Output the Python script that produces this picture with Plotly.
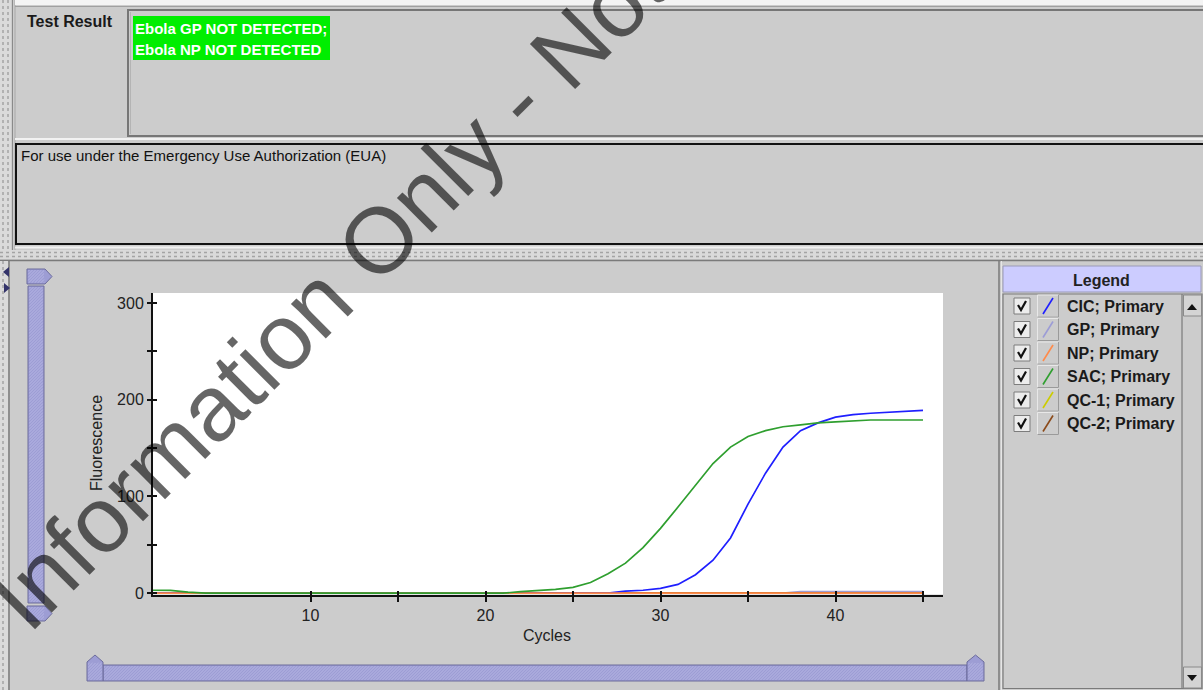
import plotly.graph_objects as go

W, H = 1203, 690
FIG_H = 697  # the page photo comes out ~1% squeezed vertically; paper fractions stay the same

# ---------------- data ----------------
cycles = list(range(1, 46))
cic = [0]*27 + [2, 3, 5, 9, 19, 34, 57, 92, 124, 151, 168, 176, 182, 184.5, 186, 187, 187.5, 189]
gp = [0]*37 + [1.5]*8
np_vals = [0]*45
sac = [3, 2.8, 1] + [0]*18 + [1.5, 2.5, 4, 6, 11, 20, 31, 47, 67, 89, 112, 134, 151, 162, 168, 172,
                            174, 176, 177, 178, 179, 179, 179, 179]
qc1 = [0]*45
qc2 = [0]*45

series_names = ["CIC; Primary", "GP; Primary", "NP; Primary", "SAC; Primary", "QC-1; Primary", "QC-2; Primary"]
series_values = [cic, gp, np_vals, sac, qc1, qc2]
series_colors = ["#1f1fff", "#9c9cd6", "#ff8a4a", "#2f9f2f", "#cccc00", "#8b4a1a"]
draw_order = [1, 4, 5, 0, 2, 3]  # GP, QC-1, QC-2, CIC, NP, SAC

x_tick_vals = [10, 15, 20, 25, 30, 35, 40, 45]
x_tick_text = ["10", "", "20", "", "30", "", "40", ""]
y_tick_vals = [0, 50, 100, 150, 200, 250, 300]
y_tick_text = ["0", "", "100", "", "200", "", "300"]

x_title = "Cycles"
y_title = "Fluorescence"
result_label = "Test Result"
result_lines = ["Ebola GP NOT DETECTED;", "Ebola NP NOT DETECTED"]
eua_text = "For use under the Emergency Use Authorization (EUA)"
legend_title = "Legend"
watermark = "Information Only - Not"

FONT = "Liberation Sans, Arial, sans-serif"
BG = "#cccccc"
LAV = "#9d9dd4"
LAV_EDGE = "#6c6c9c"
LAV_HATCH = "#bcbce8"


def X(px):
    return px / W


def Y(py):
    return 1 - py / H


shapes = []


def rect(x0, y0, x1, y1, fill=None, line=None, width=1, layer="above"):
    shapes.append(dict(type="rect", xref="paper", yref="paper",
                       x0=X(x0), y0=Y(y0), x1=X(x1), y1=Y(y1),
                       fillcolor=fill if fill else "rgba(0,0,0,0)",
                       line=dict(color=line if line else "rgba(0,0,0,0)", width=width if line else 0),
                       layer=layer))


def seg(x0, y0, x1, y1, color, width=1, dash="solid"):
    shapes.append(dict(type="line", xref="paper", yref="paper",
                       x0=X(x0), y0=Y(y0), x1=X(x1), y1=Y(y1),
                       line=dict(color=color, width=width, dash=dash)))


def poly(pts, fill, line=None, width=1):
    d = "M " + " L ".join(f"{X(px):.5f},{Y(py):.5f}" for px, py in pts) + " Z"
    shapes.append(dict(type="path", xref="paper", yref="paper", path=d,
                       fillcolor=fill,
                       line=dict(color=line if line else "rgba(0,0,0,0)", width=width if line else 0)))


def hatch(x0, y0, x1, y1, step=3.0, color=LAV_HATCH):
    parts = []
    c = x0 + y0 + step / 2
    while c < x1 + y1:
        xa, xb = max(x0, c - y1), min(x1, c - y0)
        if xb > xa:
            parts.append(f"M {X(xa):.5f},{Y(c - xa):.5f} L {X(xb):.5f},{Y(c - xb):.5f}")
        c += step
    shapes.append(dict(type="path", xref="paper", yref="paper", path=" ".join(parts),
                       line=dict(color=color, width=0.8)))


# ---------- top panel ----------
rect(0, 0, 11, 251, fill="#dadada")
seg(3, 0, 3, 251, "#a4a4a4", 1.5, "dot")
seg(8, 0, 8, 251, "#a4a4a4", 1.5, "dot")
seg(12.5, 0, 12.5, 251, "#8a8a8a", 1)
seg(15, 0, 15, 251, "#a8a8a8", 1)
rect(15, 0, W, 5, fill="#f4f4f4")
seg(15, 6.5, W, 6.5, "#a0a0a0", 1)
# result box
rect(128, 10, W + 3, 136, line="#767676", width=2)
seg(130.5, 12, 130.5, 134, "#b4b4b4", 1)
seg(15, 139, W, 139, "#f2f2f2", 2)
# highlight
rect(133, 16, 330, 60, fill="#00ee00")
# EUA box
rect(16, 144, W + 3, 244, line="#111111", width=2)
seg(15, 247.5, W, 247.5, "#f0f0f0", 2)
# horizontal splitter
rect(0, 250, W, 259, fill="#dadada")
seg(0, 252.5, W, 252.5, "#a4a4a4", 1.5, "dot")
seg(0, 256.5, W, 256.5, "#a4a4a4", 1.5, "dot")
seg(0, 260.5, W, 260.5, "#7a7a7a", 1.5)

# ---------- bottom panel left ----------
rect(0, 261, 8, H, fill="#dadada")
seg(3, 261, 3, H, "#a4a4a4", 1.5, "dot")
seg(9, 261, 9, H, "#7a7a7a", 1.5)
poly([(9, 267), (9, 277), (3, 272)], "#33336a")
poly([(4, 283), (4, 293), (10, 288)], "#33336a")

# vertical slider
rect(28, 286, 44, 603, fill=LAV)
hatch(29, 287, 43, 602)
rect(28, 286, 44, 603, line=LAV_EDGE, width=1)
poly([(27, 269), (45, 269), (52, 276.5), (45, 284), (27, 284)], LAV)
hatch(28, 270, 44, 283)
poly([(27, 269), (45, 269), (52, 276.5), (45, 284), (27, 284)], "rgba(0,0,0,0)", LAV_EDGE, 1)
poly([(27, 606), (45, 606), (52, 613.5), (45, 621), (27, 621)], LAV)
hatch(28, 607, 44, 620)
poly([(27, 606), (45, 606), (52, 613.5), (45, 621), (27, 621)], "rgba(0,0,0,0)", LAV_EDGE, 1)
# horizontal slider
rect(103, 665, 967, 681, fill=LAV)
hatch(104, 666, 966, 680)
rect(103, 665, 967, 681, line=LAV_EDGE, width=1)
for pts in ([(87, 681), (87, 662), (95, 655), (103, 662), (103, 681)],
            [(967, 681), (967, 662), (975.5, 655), (984, 662), (984, 681)]):
    poly(pts, LAV)
    hatch(pts[0][0] + 1, 663, pts[3][0] - 1, 680)
    poly(pts, "rgba(0,0,0,0)", LAV_EDGE, 1)

# ---------- legend panel ----------
seg(999, 261, 999, H, "#7a7a7a", 1.5)
seg(1001.5, 261, 1001.5, H, "#e6e6e6", 1)
rect(1003, 266, 1201, 292, fill="#ccccff", line="#9a9ab8", width=1)
rect(1003, 294, 1202, 688.5, line="#7a7a7a", width=1.2)
seg(1182, 294, 1182, 688, "#7a7a7a", 1.2)
rect(1183.5, 295, 1201.5, 316, fill="#d4d4d4", line="#8a8a8a", width=1)
poly([(1187, 310), (1197, 310), (1192, 304)], "#111111")
rect(1183.5, 667, 1201.5, 688, fill="#d4d4d4", line="#8a8a8a", width=1)
poly([(1187, 675), (1197, 675), (1192, 681)], "#111111")

row_y = [306, 329.5, 353, 376.5, 400, 423.5]
for i, yc in enumerate(row_y):
    rect(1014, yc - 8, 1030, yc + 8, fill="#ececec", line="#7c7c7c", width=1)
    shapes.append(dict(type="path", xref="paper", yref="paper",
                       path=f"M {X(1018):.5f},{Y(yc-1):.5f} L {X(1021):.5f},{Y(yc+4):.5f} L {X(1026):.5f},{Y(yc-5):.5f}",
                       line=dict(color="#111111", width=2.2)))
    rect(1037.5, yc - 11, 1058.5, yc + 11, line="#e8e8e8", width=1)
    seg(1037.5, yc + 11, 1058.5, yc + 11, "#9a9a9a", 1)
    seg(1058.5, yc - 11, 1058.5, yc + 11, "#9a9a9a", 1)
    seg(1043, yc + 8, 1053, yc - 8, series_colors[i], 1.6)

# ---------------- figure ----------------
fig = go.Figure()
for k in draw_order:
    fig.add_trace(go.Scatter(x=cycles, y=series_values[k], mode="lines", name=series_names[k],
                             line=dict(color=series_colors[k], width=1.7), showlegend=False,
                             hoverinfo="skip"))
fig.add_trace(go.Scatter(x=[None], y=[None], xaxis="x2", yaxis="y2", showlegend=False,
                         hoverinfo="skip", mode="lines"))

xdom = [X(153), X(943)]
ydom = [Y(594.5), Y(293)]
xr = [1, 1 + (943 - 153) / 17.5]
yr = [-1.4, -1.4 + (594.5 - 293) / 0.9673]
tickfont = dict(family=FONT, size=16, color="#222222")

fig.update_layout(
    width=W, height=FIG_H, autosize=False,
    margin=dict(l=0, r=0, t=0, b=0, pad=0),
    paper_bgcolor=BG, plot_bgcolor="white",
    showlegend=False,
    xaxis=dict(domain=xdom, range=xr, showline=True, linecolor="#111111", linewidth=2,
               ticks="outside", ticklen=5, tickwidth=1.5, tickcolor="#111111",
               tickmode="array", tickvals=x_tick_vals, ticktext=x_tick_text,
               tickfont=tickfont, showgrid=False, zeroline=False, fixedrange=True, anchor="y"),
    yaxis=dict(domain=ydom, range=yr, showline=True, linecolor="#111111", linewidth=2,
               ticks="outside", ticklen=4, tickwidth=1.5, tickcolor="#111111",
               tickmode="array", tickvals=y_tick_vals, ticktext=y_tick_text,
               tickfont=tickfont, showgrid=False, zeroline=False, fixedrange=True, anchor="x"),
    xaxis2=dict(domain=xdom, range=xr, overlaying="x", anchor="y2", side="bottom",
                ticks="inside", ticklen=4, tickwidth=1.5, tickcolor="#111111",
                tickmode="array", tickvals=x_tick_vals, showticklabels=False,
                showline=False, showgrid=False, zeroline=False, fixedrange=True),
    yaxis2=dict(domain=ydom, range=yr, overlaying="y", anchor="x2", side="left",
                ticks="inside", ticklen=4, tickwidth=1.5, tickcolor="#111111",
                tickmode="array", tickvals=y_tick_vals, showticklabels=False,
                showline=False, showgrid=False, zeroline=False, fixedrange=True),
    shapes=shapes,
)

ann = []


def text(px, py, s, size=15, bold=False, color="#111111", xanchor="left", angle=0, family=FONT):
    ann.append(dict(xref="paper", yref="paper", x=X(px), y=Y(py), text=s, showarrow=False,
                    xanchor=xanchor, yanchor="middle", textangle=angle,
                    font=dict(family=family, size=size, color=color, weight="bold" if bold else "normal")))


text(25, 22, result_label, 16, True, "#1a1a1a")
text(133, 28, result_lines[0], 15, True, "white")
text(133, 49.5, result_lines[1], 15, True, "white")
text(19, 155, eua_text, 15, False, "#111111")
text(1101.5, 280, legend_title, 16, True, "#222222", "center")
for i, yc in enumerate(row_y):
    text(1065, yc, series_names[i], 16, True, "#1a1a1a")
text(547, 635, x_title, 16, False, "#222222", "center")
text(96, 443, y_title, 16, False, "#222222", "center", -90)
# watermark
ann.append(dict(xref="paper", yref="paper", x=X(328), y=Y(291), text=watermark, showarrow=False,
                xanchor="center", yanchor="middle", textangle=-45,
                font=dict(family=FONT, size=93, color="rgba(0,0,0,0.6)")))
fig.update_layout(annotations=ann)

fig.write_html("out.html",
               config={"displayModeBar": False},
               post_script="document.body.style.margin='0px';document.body.style.overflow='hidden';"
                           "document.body.style.background='#cccccc';")
